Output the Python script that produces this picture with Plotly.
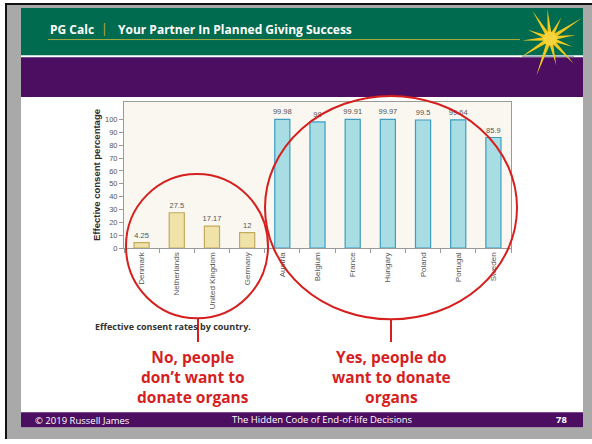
import math
import plotly.graph_objects as go

# ---- chart data -------------------------------------------------------------
countries = ["Denmark", "Netherlands", "United Kingdom", "Germany",
             "Austria", "Belgium", "France", "Hungary", "Poland",
             "Portugal", "Sweden"]
consent = [4.25, 27.5, 17.17, 12, 99.98, 98, 99.91, 99.97, 99.5, 99.64, 85.9]
system = ["opt-in"] * 4 + ["opt-out"] * 7
y_ticks = list(range(0, 101, 10))

# ---- page geometry (pixel helpers) -----------------------------------------
W, H = 592, 444


def px(x):
    return x / W


def py(y):
    return 1 - y / H


def rect(x0, y0, x1, y1, color, layer="below"):
    return dict(type="rect", xref="paper", yref="paper",
                x0=px(x0), x1=px(x1), y0=py(y1), y1=py(y0),
                fillcolor=color, line=dict(width=0), layer=layer)


def hline(x0, x1, y, color, width=1):
    return dict(type="line", xref="paper", yref="paper",
                x0=px(x0), x1=px(x1), y0=py(y), y1=py(y),
                line=dict(color=color, width=width))


def vline(x, y0, y1, color, width=1):
    return dict(type="line", xref="paper", yref="paper",
                x0=px(x), x1=px(x), y0=py(y0), y1=py(y1),
                line=dict(color=color, width=width))


def ellipse(x0, y0, x1, y1, color, width=2):
    return dict(type="circle", xref="paper", yref="paper",
                x0=px(x0), x1=px(x1), y0=py(y1), y1=py(y0),
                line=dict(color=color, width=width),
                fillcolor="rgba(0,0,0,0)", layer="above")


GREEN = "#006b4f"
PURPLE = "#4b0e60"
GRAY = "#a9a9a9"
RED = "#d61f1f"
SL, SR = 21, 583          # slide left / right edges

shapes = [
    # grey frame around the slide
    rect(5, 3, 592, 8, GRAY),
    rect(5, 3, SL, 444, GRAY),
    rect(SR, 3, 592, 444, GRAY),
    rect(5, 432, 592, 444, GRAY),
    rect(5, 3, 592, 5, "#111111"),
    rect(5, 3, 7, 444, "#111111"),
    # title band, purple band, footer band
    rect(SL, 8, SR, 56, GREEN),
    rect(SL, 58, SR, 98, PURPLE),
    rect(SL, 417, SR, 432, PURPLE),
    hline(522, 574, 57, "#9eaebb", 1.5),
    hline(48, 520, 40, "#a9ad3c", 1),
]

# starburst logo in the title band
cx, cy = 550, 39
rays = [(8, 26), (33, 38), (62, 24), (95, 30), (122, 33), (158, 24),
        (184, 28), (213, 36), (250, 40), (283, 28), (313, 35), (340, 24)]
for ang, length in rays:
    a = math.radians(ang)
    tx, ty = cx + length * math.cos(a), cy - length * math.sin(a)
    nx, ny = -math.sin(a) * 2.3, -math.cos(a) * 2.3
    path = (f"M {px(cx + nx)},{py(cy + ny)} L {px(tx)},{py(ty)} "
            f"L {px(cx - nx)},{py(cy - ny)} Z")
    shapes.append(dict(type="path", xref="paper", yref="paper", path=path,
                       fillcolor="#f3c81e", line=dict(width=0), layer="above"))
shapes.append(dict(type="circle", xref="paper", yref="paper",
                   x0=px(cx - 7), x1=px(cx + 7), y0=py(cy + 7), y1=py(cy - 7),
                   fillcolor="#f7d43c", line=dict(width=0), layer="above"))

# red call-out rings with their pointer lines
shapes += [
    ellipse(126, 176, 268, 322, RED),
    ellipse(265, 97, 517, 323, RED),
    vline(198, 322, 346, RED, 2),
    vline(391, 323, 346, RED, 2),
]

# ---- bars -------------------------------------------------------------------
fill = {"opt-in": "#efe3a9", "opt-out": "#a7dde3"}
edge = {"opt-in": "#c3aa5c", "opt-out": "#3d9ec2"}

fig = go.Figure(go.Bar(
    x=countries,
    y=consent,
    width=0.43,
    marker=dict(color=[fill[s] for s in system],
                line=dict(color=[edge[s] for s in system], width=1.2)),
    text=[f"{v:g}" for v in consent],
    textposition="outside",
    constraintext="none",
    cliponaxis=False,
    textfont=dict(family="Liberation Sans, Arial", size=7.5, color="#555555"),
    hoverinfo="skip",
))

AX = "#9a9a9a"
fig.update_xaxes(
    domain=[px(124), px(511)], range=[-0.5, 10.5], type="category",
    tickson="boundaries", ticks="outside", ticklen=4, tickcolor=AX,
    tickangle=-90, tickfont=dict(family="Liberation Sans, Arial", size=8,
                                 color="#555555"),
    showline=True, linecolor=AX, linewidth=1, mirror=True, showgrid=False,
)
fig.update_yaxes(
    domain=[py(251), py(103)], range=[0, 113.6], tickvals=y_ticks,
    ticks="outside", ticklen=4, tickcolor=AX,
    tickfont=dict(family="Liberation Sans, Arial", size=7.5, color="#555555"),
    showline=True, linecolor=AX, linewidth=1, mirror=True, showgrid=False,
    zeroline=False,
)


def note(x, y, text, size, color, anchor="center", bold=False,
         family="Open Sans", angle=0):
    return dict(xref="paper", yref="paper", x=px(x), y=py(y), text=text,
                showarrow=False, xanchor=anchor, yanchor="middle",
                textangle=angle, align="center",
                font=dict(family=family, size=size, color=color,
                          weight="bold" if bold else "normal"))


annotations = [
    note(48, 29.5, "PG Calc", 12, "white", "left", True),
    note(104, 29, "|", 12, "#c9b23a", "center"),
    note(116, 29.5, "Your Partner In Planned Giving Success", 12, "white",
         "left", True),
    note(96, 177, "Effective consent percentage", 9.5, "#2b2b2b", bold=True,
         family="Liberation Sans, Arial", angle=-90),
    note(93, 330, "Effective consent rates by country.", 9, "#333333",
         "left", True),
    note(193, 381, "No, people<br>don’t want to<br>donate organs", 15.5,
         RED, bold=True),
    note(391, 381, "Yes, people do<br>want to donate<br>organs", 15.5,
         RED, bold=True),
    note(33, 425, "© 2019 Russell James", 9.5, "white", "left"),
    note(322, 424.5, "The Hidden Code of End-of-life Decisions", 9.5, "white"),
    note(569, 424.5, "78", 9.5, "white", "right", True),
]

fig.update_layout(
    width=W, height=H, margin=dict(l=0, r=0, t=0, b=0),
    paper_bgcolor="white", plot_bgcolor="#f9f7f0",
    showlegend=False, shapes=shapes, annotations=annotations,
)

fig.write_html("out.html")
